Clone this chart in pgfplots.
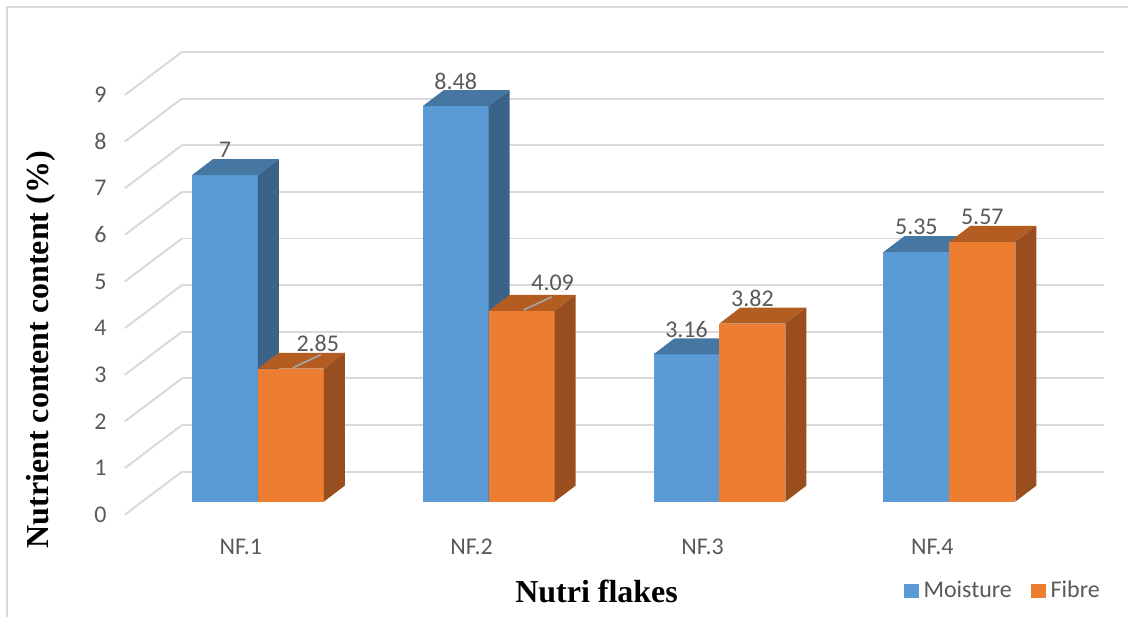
\documentclass[border=0pt]{standalone}
\usepackage{pgfplots}
\pgfplotsset{compat=1.18}
\usepackage{pgfplotstable}
\usepackage{fontspec}
\setmainfont{Carlito}
\newfontfamily\tnr{Liberation Serif}
\definecolor{mfront}{HTML}{5B9BD5}
\definecolor{mtop}{HTML}{4676A2}
\definecolor{mside}{HTML}{3B6388}
\definecolor{ffront}{HTML}{ED7D31}
\definecolor{ftop}{HTML}{B45D22}
\definecolor{fside}{HTML}{984E1E}
\definecolor{gridc}{HTML}{D9D9D9}
\definecolor{txt}{HTML}{595959}
\definecolor{leader}{HTML}{A6A6A6}

% bar centres in px, values, label offsets (pt), leader flag
\pgfplotstableread{
x    v     dx    dy    lead
225  7     0     0     0
456  8.48  0     0     0
687  3.16  0     0     0
917  5.35  0     0     0
}\moisture
\pgfplotstableread{
x    v     dx    dy    lead
291  2.85  13.5  0     1
522  4.09  15.5  1.5   1
753  3.82  0     0     0
983  5.57  0     0     0
}\fibre

% cuboid drawn from the data point down to the baseline
\newcommand\cubecode[3]{%
  \pgfmathsetlengthmacro\hgt{\barval*23.333333pt}%
  \pgfsetfillcolor{#1}%
  \pgfpathmoveto{\pgfpoint{-16.5pt}{-15pt}}%
  \pgfpathlineto{\pgfpoint{16.5pt}{-15pt}}%
  \pgfpathlineto{\pgfpoint{16.5pt}{-15pt-\hgt}}%
  \pgfpathlineto{\pgfpoint{-16.5pt}{-15pt-\hgt}}%
  \pgfpathclose
  \pgfusepath{fill}%
  \pgfsetfillcolor{#2}%
  \pgfpathmoveto{\pgfpoint{-16.5pt}{-15pt}}%
  \pgfpathlineto{\pgfpoint{16.5pt}{-15pt}}%
  \pgfpathlineto{\pgfpoint{27pt}{-7pt}}%
  \pgfpathlineto{\pgfpoint{-6pt}{-7pt}}%
  \pgfpathclose
  \pgfusepath{fill}%
  \pgfsetfillcolor{#3}%
  \pgfpathmoveto{\pgfpoint{16.5pt}{-15pt}}%
  \pgfpathlineto{\pgfpoint{27pt}{-7pt}}%
  \pgfpathlineto{\pgfpoint{27pt}{-7pt-\hgt}}%
  \pgfpathlineto{\pgfpoint{16.5pt}{-15pt-\hgt}}%
  \pgfpathclose
  \pgfusepath{fill}%
  \ifdim\leadflag pt>0.5pt
    \pgfsetstrokecolor{leader}%
    \pgfsetlinewidth{0.8pt}%
    \pgfpathmoveto{\pgfpoint{1pt}{-14.5pt}}%
    \pgfpathlineto{\pgfpoint{15pt}{-8pt}}%
    \pgfusepath{stroke}%
  \fi
}
\pgfdeclareplotmark{cubeM}{\cubecode{mfront}{mtop}{mside}}
\pgfdeclareplotmark{cubeF}{\cubecode{ffront}{ftop}{fside}}

\pgfplotsset{
  cube/.style={
    only marks, forget plot,
    mark=#1,
    point meta=explicit,
    visualization depends on={\thisrow{v} \as \barval},
    visualization depends on={\thisrow{lead} \as \leadflag},
    visualization depends on={\thisrow{dx} \as \labdx},
    visualization depends on={\thisrow{dy} \as \labdy},
    nodes near coords,
    every node near coord/.style={anchor=center, inner sep=0pt,
      xshift=\labdx pt, yshift=-2.5pt+\labdy pt,
      font=\fontsize{12}{14}\selectfont, text=txt},
  },
}

\begin{document}
\begin{tikzpicture}
\begin{axis}[
  x=0.5pt, y=23.333333pt,
  xmin=182, xmax=1105, ymin=0, ymax=9,
  /pgf/number format/assume math mode=true,
  axis line style={draw=none},
  major tick length=0pt,
  ytick={0,...,9},
  ymajorgrids, grid style={gridc, line width=1pt},
  xtick={241,472,703,933},
  xticklabels={NF.1,NF.2,NF.3,NF.4},
  xticklabel style={anchor=center, inner sep=0pt, yshift=-37.5pt},
  yticklabel style={anchor=east, inner sep=0pt, xshift=-37.5pt, yshift=-21.5pt},
  ticklabel style={font=\fontsize{12}{14}\selectfont, text=txt},
  clip=false,
  ylabel={Nutrient content content (\%)},
  ylabel style={at={(rel axis cs:-0.1528,0.2905)}, anchor=center,
    font=\tnr\bfseries\fontsize{16}{19}\selectfont},
  xlabel={Nutri flakes},
  xlabel style={at={(rel axis cs:0.4496,-0.2857)}, anchor=center,
    font=\tnr\bfseries\fontsize{16}{19}\selectfont},
  legend style={at={(rel axis cs:0.7822,-0.2845)}, anchor=west, draw=none,
    fill=none, legend columns=2, inner sep=0pt,
    font=\fontsize{12}{14}\selectfont, text=txt,
    /tikz/every odd column/.append style={column sep=1pt},
    /tikz/every even column/.append style={column sep=8pt},
    nodes={inner sep=1.5pt}},
  legend cell align=left,
]
% bounding box and frame
\path (axis cs:0,10.1143) rectangle (axis cs:1129,-3.1071);
\draw[gridc, line width=0.8pt] (axis cs:7,-3.1071) -- (axis cs:7,9.9643) -- (axis cs:1129,9.9643);
% front diagonals of the floor/side wall
\pgfplotsinvokeforeach{0,...,9}{
  \draw[gridc, line width=1pt] (axis cs:182,#1) -- ++(-28.5pt,-21.5pt);
}
\addplot[cube=cubeM] table[x=x, y=v, meta=v] {\moisture};
\addplot[cube=cubeF] table[x=x, y=v, meta=v] {\fibre};
\addlegendimage{legend image code/.code={\fill[mfront] (0pt,-3.25pt) rectangle (7pt,3.25pt);}}
\addlegendentry{Moisture}
\addlegendimage{legend image code/.code={\fill[ffront] (0pt,-3.25pt) rectangle (7pt,3.25pt);}}
\addlegendentry{Fibre}
\end{axis}
\end{tikzpicture}
\end{document}
